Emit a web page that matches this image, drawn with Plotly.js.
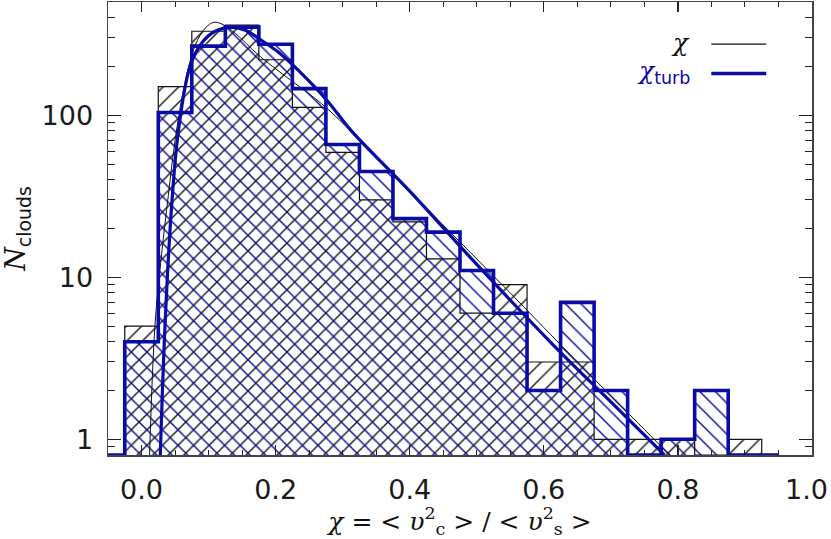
<!DOCTYPE html>
<html>
<head>
<meta charset="utf-8">
<script src="https://cdn.plot.ly/plotly-3.0.1.min.js"></script>
<style>
  html, body { margin: 0; padding: 0; background: #fff; }
  #hist { width: 831px; height: 539px; }
</style>
</head>
<body>
<div id="hist"></div>
<script>
// bin centres (width 0.05) and counts
var binCentres = [0.00, 0.05, 0.10, 0.15, 0.20, 0.25, 0.30, 0.35, 0.40, 0.45,
                  0.50, 0.55, 0.60, 0.65, 0.70, 0.75, 0.80, 0.85, 0.90];
var countsChi  = [5, 150, 330, 360, 220, 112, 59, 30, 22, 13,
                  6, 9, 3, 3, 1, 1, 1, 0, 1];
var countsTurb = [4, 104, 267, 350, 274, 146, 66, 45, 23, 19,
                  11, 6, 2, 7, 2, 0, 1, 2, 0];

// fitted curves, sampled by eye
var fitChiX  = [0.012, 0.02, 0.03, 0.04, 0.05, 0.065, 0.08, 0.095, 0.108, 0.12,
                0.14, 0.175, 0.21, 0.277, 0.35, 0.45, 0.55, 0.65, 0.75, 0.79];
var fitChiY  = [0.8, 5, 14, 32, 70, 160, 270, 345, 375, 365,
                320, 234, 180, 110, 55, 21, 8, 3, 1.15, 0.78];
var fitTurbX = [0.028, 0.035, 0.045, 0.055, 0.072, 0.09, 0.11, 0.135, 0.155, 0.172,
                0.207, 0.237, 0.277, 0.312, 0.4, 0.5, 0.612, 0.7, 0.78];
var fitTurbY = [0.8, 5, 28, 80, 198, 280, 330, 349, 335, 303,
                240, 184, 123, 81, 34, 12, 3.9, 1.7, 0.8];

var xTickVals = [0, 0.2, 0.4, 0.6, 0.8, 1.0];
var xTickText = ['0.0', '0.2', '0.4', '0.6', '0.8', '1.0'];
var yTickVals = [1, 10, 100];
var yTickText = ['1', '10', '100'];

var binWidth = 0.05;
var yMin = 0.8, yMax = 500;
var blue = '#0a0aa6';

// step outline: empty bins sit on the bottom of the plot
function steps(centres, counts, xStart, xEnd) {
  var xs = [xStart], ys = [yMin];
  for (var i = 0; i < centres.length; i++) {
    var v = counts[i] > 0 ? counts[i] : yMin;
    xs.push(centres[i] - binWidth / 2, centres[i] - binWidth / 2, centres[i] + binWidth / 2, centres[i] + binWidth / 2);
    ys.push(ys[ys.length - 1], v, v, v);
  }
  xs.push(xs[xs.length - 1], xEnd);
  ys.push(yMin, yMin);
  return {x: xs, y: ys};
}

var sChi = steps(binCentres, countsChi, -0.05, 0.95);
var sTurb = steps(binCentres, countsTurb, -0.05, 0.95);

var data = [
  { // hatch for chi
    x: sChi.x, y: sChi.y, mode: 'lines', fill: 'toself',
    fillcolor: 'rgba(0,0,0,0)',
    fillpattern: {shape: '/', fgcolor: '#1a1a1a', bgcolor: 'rgba(0,0,0,0)', size: 11, solidity: 0.13},
    line: {width: 0}, hoverinfo: 'skip', showlegend: false
  },
  { // hatch for chi_turb
    x: sTurb.x, y: sTurb.y, mode: 'lines', fill: 'toself',
    fillcolor: 'rgba(0,0,0,0)',
    fillpattern: {shape: '\\', fgcolor: blue, bgcolor: 'rgba(0,0,0,0)', size: 11, solidity: 0.13},
    line: {width: 0}, hoverinfo: 'skip', showlegend: false
  },
  {
    x: sChi.x, y: sChi.y, mode: 'lines',
    line: {color: '#111', width: 1.2}, showlegend: false
  },
  {
    x: fitChiX, y: fitChiY, mode: 'lines',
    line: {color: '#111', width: 1, shape: 'spline', smoothing: 1}, showlegend: false
  },
  {
    x: sTurb.x, y: sTurb.y, mode: 'lines',
    line: {color: blue, width: 3.6}, showlegend: false
  },
  {
    x: fitTurbX, y: fitTurbY, mode: 'lines',
    line: {color: blue, width: 3.2, shape: 'spline', smoothing: 1}, showlegend: false
  }
];

// minor ticks on the log axis
var yMinor = [];
[0.1, 1, 10, 100].forEach(function(d){
  for (var k = 2; k <= 9; k++) yMinor.push(k * d);
});

var tickFont = {family: 'DejaVu Sans, sans-serif', size: 27, color: '#1a1a1a'};

// the last x label would run past the page edge, so it is set as an annotation pulled in a little
var lastIdx = xTickText.length - 1;
var shownXText = xTickText.map(function(t, i){ return i === lastIdx ? '' : t; });

var layout = {
  width: 831,
  height: 539,
  margin: {l: 108, r: 19, t: 2, b: 84},
  paper_bgcolor: '#fff',
  plot_bgcolor: '#fff',
  xaxis: {
    range: [-0.05, 1.0],
    tickmode: 'array', tickvals: xTickVals, ticktext: shownXText,
    ticks: 'inside', ticklen: 10, tickwidth: 1.2, tickcolor: '#222',
    minor: {dtick: 0.05, tick0: 0, ticks: 'inside', ticklen: 5, tickwidth: 1, tickcolor: '#222'},
    showline: true, linecolor: '#444', linewidth: 1.5, mirror: 'allticks',
    showgrid: false, zeroline: false,
    tickfont: tickFont,
    ticklabelstandoff: 10,
    title: {
      text: '<i>χ</i> = &lt; <i>υ</i><sup>2</sup><sub>c</sub> &gt; / &lt; <i>υ</i><sup>2</sup><sub>s</sub> &gt;',
      font: {family: 'DejaVu Serif, serif', size: 25, color: '#111'},
      standoff: 10
    }
  },
  yaxis: {
    type: 'log',
    range: [Math.log10(yMin), Math.log10(yMax)],
    tickmode: 'array', tickvals: yTickVals, ticktext: yTickText,
    ticks: 'inside', ticklen: 13, tickwidth: 1.2, tickcolor: '#222',
    minor: {tickmode: 'array', tickvals: yMinor, ticks: 'inside', ticklen: 7, tickwidth: 1, tickcolor: '#222'},
    showline: true, linecolor: '#444', linewidth: 1.5, mirror: 'allticks',
    showgrid: false, zeroline: false,
    tickfont: tickFont,
    ticklabelstandoff: 8,
    title: {
      text: '<i>N</i><sub><span style="font-family:DejaVu Sans">clouds</span></sub>',
      font: {family: 'DejaVu Serif, serif', size: 27, color: '#111'},
      standoff: 10
    }
  },
  annotations: [
    {xref: 'x', yref: 'paper', x: xTickVals[lastIdx], y: 0, xanchor: 'right', yanchor: 'middle',
     xshift: 18, yshift: -34, text: xTickText[lastIdx], showarrow: false, font: tickFont},
    {xref: 'paper', yref: 'paper', x: 0.83, y: 0.91, xanchor: 'right', yanchor: 'middle',
     text: '<i>χ</i>', showarrow: false,
     font: {family: 'DejaVu Serif, serif', size: 25, color: '#111'}},
    {xref: 'paper', yref: 'paper', x: 0.83, y: 0.845, xanchor: 'right', yanchor: 'middle',
     text: '<i>χ</i><sub><span style="font-family:DejaVu Sans">turb</span></sub>', showarrow: false,
     font: {family: 'DejaVu Serif, serif', size: 25, color: blue}}
  ],
  shapes: [
    {type: 'line', xref: 'paper', yref: 'paper', x0: 0.857, x1: 0.935, y0: 0.907, y1: 0.907,
     line: {color: '#111', width: 1.3}},
    {type: 'line', xref: 'paper', yref: 'paper', x0: 0.857, x1: 0.935, y0: 0.842, y1: 0.842,
     line: {color: blue, width: 3.6}}
  ]
};

Plotly.newPlot('hist', data, layout, {staticPlot: true, displayModeBar: false});
</script>
</body>
</html>
